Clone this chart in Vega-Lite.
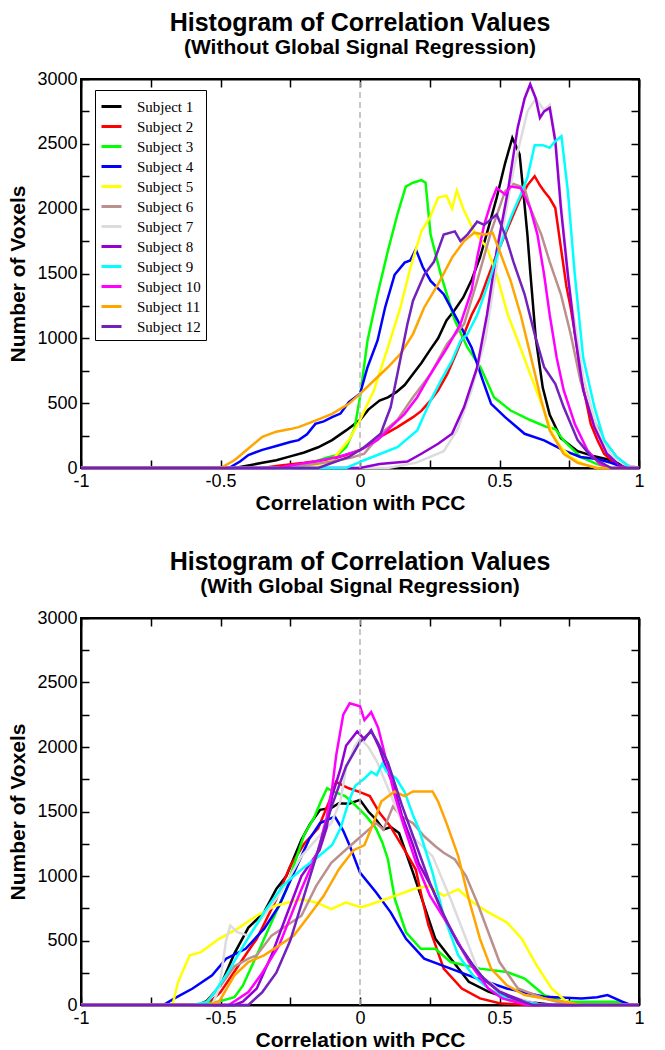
{
"$schema":"https://vega.github.io/schema/vega-lite/v6.json",
"padding":{"left":6,"top":10,"right":18,"bottom":5},
"background":"white",
"config":{"view":{"stroke":"black","strokeWidth":2},"font":"Liberation Sans",
"title":{"font":"Liberation Sans","fontSize":25,"fontWeight":"bold","color":"black","subtitleFont":"Liberation Sans","subtitleFontSize":21,"subtitleFontWeight":"bold","subtitleColor":"black","subtitlePadding":1,"offset":12,"anchor":"middle"}},
"datasets":{
"top":[
{"s":"Subject 1","x":-1,"y":0},{"s":"Subject 1","x":-0.45,"y":0},{"s":"Subject 1","x":-0.4,"y":20},{"s":"Subject 1","x":-0.35,"y":40},{"s":"Subject 1","x":-0.3,"y":60},{"s":"Subject 1","x":-0.25,"y":90},{"s":"Subject 1","x":-0.2,"y":120},{"s":"Subject 1","x":-0.15,"y":160},{"s":"Subject 1","x":-0.1,"y":215},{"s":"Subject 1","x":-0.05,"y":290},{"s":"Subject 1","x":0,"y":370},{"s":"Subject 1","x":0.03,"y":450},{"s":"Subject 1","x":0.07,"y":520},{"s":"Subject 1","x":0.1,"y":545},{"s":"Subject 1","x":0.13,"y":585},{"s":"Subject 1","x":0.16,"y":640},{"s":"Subject 1","x":0.19,"y":725},{"s":"Subject 1","x":0.22,"y":810},{"s":"Subject 1","x":0.25,"y":907},{"s":"Subject 1","x":0.28,"y":1000},{"s":"Subject 1","x":0.31,"y":1138},{"s":"Subject 1","x":0.34,"y":1220},{"s":"Subject 1","x":0.37,"y":1315},{"s":"Subject 1","x":0.4,"y":1450},{"s":"Subject 1","x":0.43,"y":1623},{"s":"Subject 1","x":0.46,"y":1850},{"s":"Subject 1","x":0.49,"y":2085},{"s":"Subject 1","x":0.52,"y":2350},{"s":"Subject 1","x":0.546,"y":2546},{"s":"Subject 1","x":0.56,"y":2480},{"s":"Subject 1","x":0.572,"y":2420},{"s":"Subject 1","x":0.585,"y":2140},{"s":"Subject 1","x":0.6,"y":1800},{"s":"Subject 1","x":0.61,"y":1520},{"s":"Subject 1","x":0.63,"y":1000},{"s":"Subject 1","x":0.655,"y":620},{"s":"Subject 1","x":0.68,"y":410},{"s":"Subject 1","x":0.72,"y":230},{"s":"Subject 1","x":0.78,"y":130},{"s":"Subject 1","x":0.84,"y":90},{"s":"Subject 1","x":0.9,"y":60},{"s":"Subject 1","x":0.95,"y":10},{"s":"Subject 1","x":1,"y":0},
{"s":"Subject 2","x":-1,"y":0},{"s":"Subject 2","x":-0.35,"y":0},{"s":"Subject 2","x":-0.3,"y":15},{"s":"Subject 2","x":-0.2,"y":40},{"s":"Subject 2","x":-0.1,"y":70},{"s":"Subject 2","x":-0.05,"y":100},{"s":"Subject 2","x":0,"y":140},{"s":"Subject 2","x":0.04,"y":187},{"s":"Subject 2","x":0.08,"y":250},{"s":"Subject 2","x":0.134,"y":315},{"s":"Subject 2","x":0.19,"y":392},{"s":"Subject 2","x":0.22,"y":440},{"s":"Subject 2","x":0.253,"y":521},{"s":"Subject 2","x":0.28,"y":600},{"s":"Subject 2","x":0.313,"y":725},{"s":"Subject 2","x":0.34,"y":860},{"s":"Subject 2","x":0.373,"y":1033},{"s":"Subject 2","x":0.4,"y":1180},{"s":"Subject 2","x":0.432,"y":1315},{"s":"Subject 2","x":0.46,"y":1480},{"s":"Subject 2","x":0.49,"y":1648},{"s":"Subject 2","x":0.52,"y":1800},{"s":"Subject 2","x":0.55,"y":1955},{"s":"Subject 2","x":0.575,"y":2080},{"s":"Subject 2","x":0.6,"y":2180},{"s":"Subject 2","x":0.626,"y":2251},{"s":"Subject 2","x":0.645,"y":2180},{"s":"Subject 2","x":0.66,"y":2135},{"s":"Subject 2","x":0.68,"y":2080},{"s":"Subject 2","x":0.7,"y":2005},{"s":"Subject 2","x":0.72,"y":1700},{"s":"Subject 2","x":0.74,"y":1400},{"s":"Subject 2","x":0.755,"y":1238},{"s":"Subject 2","x":0.775,"y":980},{"s":"Subject 2","x":0.79,"y":725},{"s":"Subject 2","x":0.81,"y":520},{"s":"Subject 2","x":0.827,"y":340},{"s":"Subject 2","x":0.85,"y":220},{"s":"Subject 2","x":0.875,"y":110},{"s":"Subject 2","x":0.91,"y":40},{"s":"Subject 2","x":0.95,"y":0},{"s":"Subject 2","x":1,"y":0},
{"s":"Subject 3","x":-1,"y":0},{"s":"Subject 3","x":-0.3,"y":0},{"s":"Subject 3","x":-0.25,"y":10},{"s":"Subject 3","x":-0.2,"y":30},{"s":"Subject 3","x":-0.16,"y":50},{"s":"Subject 3","x":-0.12,"y":80},{"s":"Subject 3","x":-0.08,"y":100},{"s":"Subject 3","x":-0.05,"y":160},{"s":"Subject 3","x":-0.02,"y":300},{"s":"Subject 3","x":0,"y":546},{"s":"Subject 3","x":0.027,"y":984},{"s":"Subject 3","x":0.063,"y":1340},{"s":"Subject 3","x":0.1,"y":1675},{"s":"Subject 3","x":0.134,"y":1955},{"s":"Subject 3","x":0.164,"y":2170},{"s":"Subject 3","x":0.19,"y":2200},{"s":"Subject 3","x":0.22,"y":2220},{"s":"Subject 3","x":0.235,"y":2200},{"s":"Subject 3","x":0.253,"y":1800},{"s":"Subject 3","x":0.29,"y":1490},{"s":"Subject 3","x":0.34,"y":1138},{"s":"Subject 3","x":0.385,"y":930},{"s":"Subject 3","x":0.432,"y":777},{"s":"Subject 3","x":0.48,"y":546},{"s":"Subject 3","x":0.54,"y":443},{"s":"Subject 3","x":0.61,"y":370},{"s":"Subject 3","x":0.67,"y":315},{"s":"Subject 3","x":0.7,"y":300},{"s":"Subject 3","x":0.73,"y":213},{"s":"Subject 3","x":0.76,"y":150},{"s":"Subject 3","x":0.79,"y":85},{"s":"Subject 3","x":0.85,"y":30},{"s":"Subject 3","x":0.9,"y":0},{"s":"Subject 3","x":1,"y":0},
{"s":"Subject 4","x":-1,"y":0},{"s":"Subject 4","x":-0.47,"y":0},{"s":"Subject 4","x":-0.43,"y":50},{"s":"Subject 4","x":-0.4,"y":100},{"s":"Subject 4","x":-0.35,"y":140},{"s":"Subject 4","x":-0.3,"y":170},{"s":"Subject 4","x":-0.25,"y":200},{"s":"Subject 4","x":-0.22,"y":215},{"s":"Subject 4","x":-0.19,"y":260},{"s":"Subject 4","x":-0.16,"y":340},{"s":"Subject 4","x":-0.13,"y":360},{"s":"Subject 4","x":-0.1,"y":392},{"s":"Subject 4","x":-0.07,"y":420},{"s":"Subject 4","x":-0.04,"y":508},{"s":"Subject 4","x":0,"y":572},{"s":"Subject 4","x":0.027,"y":777},{"s":"Subject 4","x":0.063,"y":984},{"s":"Subject 4","x":0.09,"y":1238},{"s":"Subject 4","x":0.124,"y":1490},{"s":"Subject 4","x":0.16,"y":1584},{"s":"Subject 4","x":0.18,"y":1600},{"s":"Subject 4","x":0.2,"y":1687},{"s":"Subject 4","x":0.225,"y":1550},{"s":"Subject 4","x":0.253,"y":1443},{"s":"Subject 4","x":0.3,"y":1340},{"s":"Subject 4","x":0.35,"y":1138},{"s":"Subject 4","x":0.4,"y":930},{"s":"Subject 4","x":0.44,"y":675},{"s":"Subject 4","x":0.47,"y":495},{"s":"Subject 4","x":0.52,"y":392},{"s":"Subject 4","x":0.59,"y":264},{"s":"Subject 4","x":0.66,"y":213},{"s":"Subject 4","x":0.73,"y":136},{"s":"Subject 4","x":0.79,"y":85},{"s":"Subject 4","x":0.85,"y":70},{"s":"Subject 4","x":0.9,"y":40},{"s":"Subject 4","x":0.95,"y":0},{"s":"Subject 4","x":1,"y":0},
{"s":"Subject 5","x":-1,"y":0},{"s":"Subject 5","x":-0.25,"y":0},{"s":"Subject 5","x":-0.2,"y":10},{"s":"Subject 5","x":-0.15,"y":25},{"s":"Subject 5","x":-0.1,"y":60},{"s":"Subject 5","x":-0.04,"y":215},{"s":"Subject 5","x":0,"y":370},{"s":"Subject 5","x":0.05,"y":600},{"s":"Subject 5","x":0.1,"y":930},{"s":"Subject 5","x":0.145,"y":1238},{"s":"Subject 5","x":0.18,"y":1540},{"s":"Subject 5","x":0.22,"y":1825},{"s":"Subject 5","x":0.25,"y":1930},{"s":"Subject 5","x":0.28,"y":2085},{"s":"Subject 5","x":0.31,"y":2100},{"s":"Subject 5","x":0.33,"y":2000},{"s":"Subject 5","x":0.347,"y":2140},{"s":"Subject 5","x":0.37,"y":2000},{"s":"Subject 5","x":0.41,"y":1820},{"s":"Subject 5","x":0.455,"y":1700},{"s":"Subject 5","x":0.49,"y":1490},{"s":"Subject 5","x":0.53,"y":1180},{"s":"Subject 5","x":0.565,"y":985},{"s":"Subject 5","x":0.61,"y":725},{"s":"Subject 5","x":0.655,"y":470},{"s":"Subject 5","x":0.69,"y":265},{"s":"Subject 5","x":0.72,"y":160},{"s":"Subject 5","x":0.755,"y":85},{"s":"Subject 5","x":0.8,"y":30},{"s":"Subject 5","x":0.85,"y":0},{"s":"Subject 5","x":1,"y":0},
{"s":"Subject 6","x":-1,"y":0},{"s":"Subject 6","x":-0.3,"y":0},{"s":"Subject 6","x":-0.2,"y":20},{"s":"Subject 6","x":-0.1,"y":50},{"s":"Subject 6","x":-0.03,"y":80},{"s":"Subject 6","x":0.015,"y":110},{"s":"Subject 6","x":0.075,"y":265},{"s":"Subject 6","x":0.134,"y":370},{"s":"Subject 6","x":0.19,"y":546},{"s":"Subject 6","x":0.253,"y":725},{"s":"Subject 6","x":0.313,"y":960},{"s":"Subject 6","x":0.373,"y":1110},{"s":"Subject 6","x":0.42,"y":1443},{"s":"Subject 6","x":0.47,"y":1825},{"s":"Subject 6","x":0.52,"y":2135},{"s":"Subject 6","x":0.55,"y":2190},{"s":"Subject 6","x":0.59,"y":2160},{"s":"Subject 6","x":0.61,"y":2005},{"s":"Subject 6","x":0.65,"y":1800},{"s":"Subject 6","x":0.68,"y":1590},{"s":"Subject 6","x":0.72,"y":1340},{"s":"Subject 6","x":0.755,"y":1033},{"s":"Subject 6","x":0.79,"y":675},{"s":"Subject 6","x":0.827,"y":418},{"s":"Subject 6","x":0.875,"y":215},{"s":"Subject 6","x":0.92,"y":85},{"s":"Subject 6","x":0.96,"y":20},{"s":"Subject 6","x":1,"y":0},
{"s":"Subject 7","x":-1,"y":0},{"s":"Subject 7","x":0.1,"y":0},{"s":"Subject 7","x":0.2,"y":40},{"s":"Subject 7","x":0.3,"y":130},{"s":"Subject 7","x":0.35,"y":300},{"s":"Subject 7","x":0.4,"y":600},{"s":"Subject 7","x":0.45,"y":1000},{"s":"Subject 7","x":0.5,"y":1700},{"s":"Subject 7","x":0.55,"y":2300},{"s":"Subject 7","x":0.6,"y":2750},{"s":"Subject 7","x":0.63,"y":2850},{"s":"Subject 7","x":0.66,"y":2760},{"s":"Subject 7","x":0.68,"y":2800},{"s":"Subject 7","x":0.7,"y":2550},{"s":"Subject 7","x":0.72,"y":2050},{"s":"Subject 7","x":0.75,"y":1400},{"s":"Subject 7","x":0.8,"y":700},{"s":"Subject 7","x":0.85,"y":300},{"s":"Subject 7","x":0.9,"y":100},{"s":"Subject 7","x":0.95,"y":20},{"s":"Subject 7","x":1,"y":0},
{"s":"Subject 8","x":-1,"y":0},{"s":"Subject 8","x":0,"y":0},{"s":"Subject 8","x":0.07,"y":30},{"s":"Subject 8","x":0.17,"y":50},{"s":"Subject 8","x":0.22,"y":110},{"s":"Subject 8","x":0.28,"y":187},{"s":"Subject 8","x":0.33,"y":265},{"s":"Subject 8","x":0.373,"y":470},{"s":"Subject 8","x":0.42,"y":777},{"s":"Subject 8","x":0.455,"y":1180},{"s":"Subject 8","x":0.49,"y":1675},{"s":"Subject 8","x":0.53,"y":2135},{"s":"Subject 8","x":0.565,"y":2623},{"s":"Subject 8","x":0.59,"y":2850},{"s":"Subject 8","x":0.61,"y":2960},{"s":"Subject 8","x":0.63,"y":2850},{"s":"Subject 8","x":0.645,"y":2700},{"s":"Subject 8","x":0.66,"y":2750},{"s":"Subject 8","x":0.68,"y":2777},{"s":"Subject 8","x":0.7,"y":2520},{"s":"Subject 8","x":0.72,"y":2005},{"s":"Subject 8","x":0.745,"y":1490},{"s":"Subject 8","x":0.77,"y":1033},{"s":"Subject 8","x":0.8,"y":600},{"s":"Subject 8","x":0.84,"y":315},{"s":"Subject 8","x":0.885,"y":110},{"s":"Subject 8","x":0.93,"y":20},{"s":"Subject 8","x":0.96,"y":0},{"s":"Subject 8","x":1,"y":0},
{"s":"Subject 9","x":-1,"y":0},{"s":"Subject 9","x":-0.05,"y":0},{"s":"Subject 9","x":0.015,"y":60},{"s":"Subject 9","x":0.074,"y":110},{"s":"Subject 9","x":0.134,"y":160},{"s":"Subject 9","x":0.205,"y":290},{"s":"Subject 9","x":0.253,"y":520},{"s":"Subject 9","x":0.29,"y":675},{"s":"Subject 9","x":0.33,"y":830},{"s":"Subject 9","x":0.36,"y":980},{"s":"Subject 9","x":0.385,"y":1033},{"s":"Subject 9","x":0.42,"y":1180},{"s":"Subject 9","x":0.47,"y":1490},{"s":"Subject 9","x":0.5,"y":1700},{"s":"Subject 9","x":0.54,"y":1930},{"s":"Subject 9","x":0.576,"y":2110},{"s":"Subject 9","x":0.6,"y":2240},{"s":"Subject 9","x":0.626,"y":2490},{"s":"Subject 9","x":0.655,"y":2490},{"s":"Subject 9","x":0.68,"y":2470},{"s":"Subject 9","x":0.7,"y":2520},{"s":"Subject 9","x":0.722,"y":2559},{"s":"Subject 9","x":0.745,"y":2135},{"s":"Subject 9","x":0.77,"y":1490},{"s":"Subject 9","x":0.8,"y":850},{"s":"Subject 9","x":0.84,"y":470},{"s":"Subject 9","x":0.875,"y":215},{"s":"Subject 9","x":0.92,"y":85},{"s":"Subject 9","x":0.97,"y":0},{"s":"Subject 9","x":1,"y":0},
{"s":"Subject 10","x":-1,"y":0},{"s":"Subject 10","x":-0.3,"y":0},{"s":"Subject 10","x":-0.22,"y":30},{"s":"Subject 10","x":-0.16,"y":50},{"s":"Subject 10","x":-0.08,"y":85},{"s":"Subject 10","x":0,"y":136},{"s":"Subject 10","x":0.063,"y":215},{"s":"Subject 10","x":0.11,"y":315},{"s":"Subject 10","x":0.16,"y":418},{"s":"Subject 10","x":0.205,"y":546},{"s":"Subject 10","x":0.253,"y":725},{"s":"Subject 10","x":0.313,"y":930},{"s":"Subject 10","x":0.36,"y":1110},{"s":"Subject 10","x":0.4,"y":1370},{"s":"Subject 10","x":0.42,"y":1623},{"s":"Subject 10","x":0.445,"y":1875},{"s":"Subject 10","x":0.47,"y":2050},{"s":"Subject 10","x":0.49,"y":2160},{"s":"Subject 10","x":0.52,"y":2110},{"s":"Subject 10","x":0.54,"y":2170},{"s":"Subject 10","x":0.576,"y":2160},{"s":"Subject 10","x":0.61,"y":2005},{"s":"Subject 10","x":0.636,"y":1800},{"s":"Subject 10","x":0.66,"y":1490},{"s":"Subject 10","x":0.68,"y":1180},{"s":"Subject 10","x":0.705,"y":850},{"s":"Subject 10","x":0.73,"y":600},{"s":"Subject 10","x":0.77,"y":340},{"s":"Subject 10","x":0.815,"y":136},{"s":"Subject 10","x":0.86,"y":30},{"s":"Subject 10","x":0.9,"y":0},{"s":"Subject 10","x":1,"y":0},
{"s":"Subject 11","x":-1,"y":0},{"s":"Subject 11","x":-0.5,"y":0},{"s":"Subject 11","x":-0.45,"y":60},{"s":"Subject 11","x":-0.4,"y":150},{"s":"Subject 11","x":-0.35,"y":240},{"s":"Subject 11","x":-0.3,"y":280},{"s":"Subject 11","x":-0.25,"y":300},{"s":"Subject 11","x":-0.22,"y":315},{"s":"Subject 11","x":-0.16,"y":365},{"s":"Subject 11","x":-0.1,"y":418},{"s":"Subject 11","x":-0.04,"y":495},{"s":"Subject 11","x":0,"y":572},{"s":"Subject 11","x":0.05,"y":675},{"s":"Subject 11","x":0.1,"y":777},{"s":"Subject 11","x":0.145,"y":880},{"s":"Subject 11","x":0.19,"y":1033},{"s":"Subject 11","x":0.23,"y":1238},{"s":"Subject 11","x":0.28,"y":1418},{"s":"Subject 11","x":0.33,"y":1623},{"s":"Subject 11","x":0.373,"y":1750},{"s":"Subject 11","x":0.41,"y":1815},{"s":"Subject 11","x":0.445,"y":1800},{"s":"Subject 11","x":0.475,"y":1815},{"s":"Subject 11","x":0.5,"y":1675},{"s":"Subject 11","x":0.54,"y":1443},{"s":"Subject 11","x":0.576,"y":1180},{"s":"Subject 11","x":0.61,"y":880},{"s":"Subject 11","x":0.65,"y":520},{"s":"Subject 11","x":0.68,"y":290},{"s":"Subject 11","x":0.73,"y":110},{"s":"Subject 11","x":0.78,"y":40},{"s":"Subject 11","x":0.85,"y":0},{"s":"Subject 11","x":1,"y":0},
{"s":"Subject 12","x":-1,"y":0},{"s":"Subject 12","x":-0.15,"y":0},{"s":"Subject 12","x":-0.04,"y":85},{"s":"Subject 12","x":0.015,"y":160},{"s":"Subject 12","x":0.074,"y":265},{"s":"Subject 12","x":0.11,"y":470},{"s":"Subject 12","x":0.134,"y":725},{"s":"Subject 12","x":0.17,"y":1110},{"s":"Subject 12","x":0.19,"y":1290},{"s":"Subject 12","x":0.23,"y":1490},{"s":"Subject 12","x":0.265,"y":1590},{"s":"Subject 12","x":0.3,"y":1800},{"s":"Subject 12","x":0.34,"y":1825},{"s":"Subject 12","x":0.36,"y":1750},{"s":"Subject 12","x":0.385,"y":1800},{"s":"Subject 12","x":0.42,"y":1900},{"s":"Subject 12","x":0.445,"y":1875},{"s":"Subject 12","x":0.49,"y":1955},{"s":"Subject 12","x":0.52,"y":1800},{"s":"Subject 12","x":0.55,"y":1590},{"s":"Subject 12","x":0.59,"y":1340},{"s":"Subject 12","x":0.626,"y":1033},{"s":"Subject 12","x":0.66,"y":777},{"s":"Subject 12","x":0.7,"y":650},{"s":"Subject 12","x":0.73,"y":470},{"s":"Subject 12","x":0.78,"y":215},{"s":"Subject 12","x":0.83,"y":85},{"s":"Subject 12","x":0.9,"y":0},{"s":"Subject 12","x":1,"y":0}
],
"bot":[
{"s":"Subject 1","x":-1,"y":0},{"s":"Subject 1","x":-0.58,"y":0},{"s":"Subject 1","x":-0.55,"y":30},{"s":"Subject 1","x":-0.5,"y":150},{"s":"Subject 1","x":-0.45,"y":400},{"s":"Subject 1","x":-0.4,"y":600},{"s":"Subject 1","x":-0.344,"y":718},{"s":"Subject 1","x":-0.3,"y":900},{"s":"Subject 1","x":-0.264,"y":1000},{"s":"Subject 1","x":-0.21,"y":1280},{"s":"Subject 1","x":-0.18,"y":1400},{"s":"Subject 1","x":-0.143,"y":1513},{"s":"Subject 1","x":-0.1,"y":1530},{"s":"Subject 1","x":-0.076,"y":1564},{"s":"Subject 1","x":-0.04,"y":1560},{"s":"Subject 1","x":0,"y":1590},{"s":"Subject 1","x":0.03,"y":1500},{"s":"Subject 1","x":0.058,"y":1436},{"s":"Subject 1","x":0.084,"y":1360},{"s":"Subject 1","x":0.11,"y":1380},{"s":"Subject 1","x":0.14,"y":1333},{"s":"Subject 1","x":0.19,"y":1026},{"s":"Subject 1","x":0.23,"y":770},{"s":"Subject 1","x":0.27,"y":513},{"s":"Subject 1","x":0.325,"y":360},{"s":"Subject 1","x":0.39,"y":180},{"s":"Subject 1","x":0.46,"y":103},{"s":"Subject 1","x":0.52,"y":60},{"s":"Subject 1","x":0.59,"y":26},{"s":"Subject 1","x":0.7,"y":0},{"s":"Subject 1","x":1,"y":0},
{"s":"Subject 2","x":-1,"y":0},{"s":"Subject 2","x":-0.55,"y":0},{"s":"Subject 2","x":-0.5,"y":100},{"s":"Subject 2","x":-0.45,"y":260},{"s":"Subject 2","x":-0.4,"y":420},{"s":"Subject 2","x":-0.37,"y":513},{"s":"Subject 2","x":-0.3,"y":820},{"s":"Subject 2","x":-0.25,"y":1077},{"s":"Subject 2","x":-0.2,"y":1250},{"s":"Subject 2","x":-0.15,"y":1370},{"s":"Subject 2","x":-0.11,"y":1580},{"s":"Subject 2","x":-0.086,"y":1730},{"s":"Subject 2","x":-0.06,"y":1700},{"s":"Subject 2","x":-0.04,"y":1680},{"s":"Subject 2","x":0,"y":1650},{"s":"Subject 2","x":0.035,"y":1620},{"s":"Subject 2","x":0.07,"y":1490},{"s":"Subject 2","x":0.107,"y":1390},{"s":"Subject 2","x":0.16,"y":1200},{"s":"Subject 2","x":0.2,"y":1050},{"s":"Subject 2","x":0.22,"y":850},{"s":"Subject 2","x":0.245,"y":620},{"s":"Subject 2","x":0.3,"y":282},{"s":"Subject 2","x":0.365,"y":128},{"s":"Subject 2","x":0.43,"y":51},{"s":"Subject 2","x":0.5,"y":13},{"s":"Subject 2","x":0.6,"y":0},{"s":"Subject 2","x":1,"y":0},
{"s":"Subject 3","x":-1,"y":0},{"s":"Subject 3","x":-0.58,"y":0},{"s":"Subject 3","x":-0.5,"y":30},{"s":"Subject 3","x":-0.45,"y":60},{"s":"Subject 3","x":-0.42,"y":150},{"s":"Subject 3","x":-0.37,"y":385},{"s":"Subject 3","x":-0.317,"y":641},{"s":"Subject 3","x":-0.264,"y":897},{"s":"Subject 3","x":-0.25,"y":1000},{"s":"Subject 3","x":-0.21,"y":1256},{"s":"Subject 3","x":-0.2,"y":1320},{"s":"Subject 3","x":-0.165,"y":1450},{"s":"Subject 3","x":-0.14,"y":1580},{"s":"Subject 3","x":-0.118,"y":1680},{"s":"Subject 3","x":-0.09,"y":1650},{"s":"Subject 3","x":-0.053,"y":1620},{"s":"Subject 3","x":-0.017,"y":1550},{"s":"Subject 3","x":0.02,"y":1470},{"s":"Subject 3","x":0.057,"y":1370},{"s":"Subject 3","x":0.08,"y":1260},{"s":"Subject 3","x":0.1,"y":1130},{"s":"Subject 3","x":0.125,"y":820},{"s":"Subject 3","x":0.165,"y":564},{"s":"Subject 3","x":0.218,"y":436},{"s":"Subject 3","x":0.27,"y":436},{"s":"Subject 3","x":0.325,"y":333},{"s":"Subject 3","x":0.43,"y":282},{"s":"Subject 3","x":0.526,"y":256},{"s":"Subject 3","x":0.59,"y":205},{"s":"Subject 3","x":0.66,"y":77},{"s":"Subject 3","x":0.727,"y":26},{"s":"Subject 3","x":0.93,"y":26},{"s":"Subject 3","x":0.97,"y":0},{"s":"Subject 3","x":1,"y":0},
{"s":"Subject 4","x":-1,"y":0},{"s":"Subject 4","x":-0.705,"y":0},{"s":"Subject 4","x":-0.665,"y":51},{"s":"Subject 4","x":-0.6,"y":128},{"s":"Subject 4","x":-0.53,"y":230},{"s":"Subject 4","x":-0.48,"y":359},{"s":"Subject 4","x":-0.41,"y":436},{"s":"Subject 4","x":-0.344,"y":590},{"s":"Subject 4","x":-0.29,"y":769},{"s":"Subject 4","x":-0.237,"y":1026},{"s":"Subject 4","x":-0.183,"y":1282},{"s":"Subject 4","x":-0.143,"y":1410},{"s":"Subject 4","x":-0.09,"y":1461},{"s":"Subject 4","x":-0.06,"y":1350},{"s":"Subject 4","x":-0.036,"y":1230},{"s":"Subject 4","x":0,"y":1026},{"s":"Subject 4","x":0.058,"y":872},{"s":"Subject 4","x":0.11,"y":718},{"s":"Subject 4","x":0.165,"y":513},{"s":"Subject 4","x":0.23,"y":359},{"s":"Subject 4","x":0.325,"y":282},{"s":"Subject 4","x":0.42,"y":205},{"s":"Subject 4","x":0.526,"y":128},{"s":"Subject 4","x":0.66,"y":64},{"s":"Subject 4","x":0.794,"y":51},{"s":"Subject 4","x":0.85,"y":60},{"s":"Subject 4","x":0.887,"y":77},{"s":"Subject 4","x":0.94,"y":26},{"s":"Subject 4","x":0.97,"y":0},{"s":"Subject 4","x":1,"y":0},
{"s":"Subject 5","x":-1,"y":0},{"s":"Subject 5","x":-0.672,"y":0},{"s":"Subject 5","x":-0.652,"y":180},{"s":"Subject 5","x":-0.61,"y":385},{"s":"Subject 5","x":-0.57,"y":410},{"s":"Subject 5","x":-0.505,"y":513},{"s":"Subject 5","x":-0.44,"y":590},{"s":"Subject 5","x":-0.37,"y":692},{"s":"Subject 5","x":-0.304,"y":769},{"s":"Subject 5","x":-0.21,"y":820},{"s":"Subject 5","x":-0.157,"y":795},{"s":"Subject 5","x":-0.103,"y":744},{"s":"Subject 5","x":-0.05,"y":795},{"s":"Subject 5","x":0.004,"y":756},{"s":"Subject 5","x":0.058,"y":795},{"s":"Subject 5","x":0.125,"y":846},{"s":"Subject 5","x":0.19,"y":897},{"s":"Subject 5","x":0.245,"y":923},{"s":"Subject 5","x":0.3,"y":846},{"s":"Subject 5","x":0.352,"y":897},{"s":"Subject 5","x":0.405,"y":795},{"s":"Subject 5","x":0.46,"y":718},{"s":"Subject 5","x":0.526,"y":641},{"s":"Subject 5","x":0.58,"y":513},{"s":"Subject 5","x":0.633,"y":308},{"s":"Subject 5","x":0.687,"y":128},{"s":"Subject 5","x":0.74,"y":26},{"s":"Subject 5","x":0.78,"y":0},{"s":"Subject 5","x":1,"y":0},
{"s":"Subject 6","x":-1,"y":0},{"s":"Subject 6","x":-0.56,"y":0},{"s":"Subject 6","x":-0.5,"y":150},{"s":"Subject 6","x":-0.45,"y":300},{"s":"Subject 6","x":-0.4,"y":360},{"s":"Subject 6","x":-0.37,"y":385},{"s":"Subject 6","x":-0.317,"y":538},{"s":"Subject 6","x":-0.264,"y":615},{"s":"Subject 6","x":-0.21,"y":692},{"s":"Subject 6","x":-0.157,"y":923},{"s":"Subject 6","x":-0.103,"y":1103},{"s":"Subject 6","x":-0.05,"y":1205},{"s":"Subject 6","x":0.004,"y":1308},{"s":"Subject 6","x":0.058,"y":1410},{"s":"Subject 6","x":0.084,"y":1359},{"s":"Subject 6","x":0.118,"y":1538},{"s":"Subject 6","x":0.15,"y":1461},{"s":"Subject 6","x":0.19,"y":1410},{"s":"Subject 6","x":0.23,"y":1308},{"s":"Subject 6","x":0.27,"y":1231},{"s":"Subject 6","x":0.3,"y":1180},{"s":"Subject 6","x":0.34,"y":1128},{"s":"Subject 6","x":0.38,"y":1000},{"s":"Subject 6","x":0.42,"y":795},{"s":"Subject 6","x":0.46,"y":564},{"s":"Subject 6","x":0.5,"y":333},{"s":"Subject 6","x":0.566,"y":128},{"s":"Subject 6","x":0.66,"y":51},{"s":"Subject 6","x":0.727,"y":13},{"s":"Subject 6","x":0.8,"y":0},{"s":"Subject 6","x":1,"y":0},
{"s":"Subject 7","x":-1,"y":0},{"s":"Subject 7","x":-0.53,"y":0},{"s":"Subject 7","x":-0.505,"y":128},{"s":"Subject 7","x":-0.48,"y":500},{"s":"Subject 7","x":-0.465,"y":615},{"s":"Subject 7","x":-0.44,"y":564},{"s":"Subject 7","x":-0.4,"y":538},{"s":"Subject 7","x":-0.344,"y":692},{"s":"Subject 7","x":-0.277,"y":897},{"s":"Subject 7","x":-0.21,"y":1154},{"s":"Subject 7","x":-0.157,"y":1282},{"s":"Subject 7","x":-0.103,"y":1410},{"s":"Subject 7","x":-0.07,"y":1580},{"s":"Subject 7","x":-0.05,"y":1835},{"s":"Subject 7","x":-0.02,"y":2000},{"s":"Subject 7","x":0,"y":2067},{"s":"Subject 7","x":0.03,"y":2000},{"s":"Subject 7","x":0.06,"y":1890},{"s":"Subject 7","x":0.11,"y":1630},{"s":"Subject 7","x":0.16,"y":1370},{"s":"Subject 7","x":0.19,"y":1300},{"s":"Subject 7","x":0.26,"y":1154},{"s":"Subject 7","x":0.325,"y":820},{"s":"Subject 7","x":0.38,"y":513},{"s":"Subject 7","x":0.43,"y":230},{"s":"Subject 7","x":0.526,"y":77},{"s":"Subject 7","x":0.65,"y":0},{"s":"Subject 7","x":1,"y":0},
{"s":"Subject 8","x":-1,"y":0},{"s":"Subject 8","x":-0.45,"y":0},{"s":"Subject 8","x":-0.42,"y":26},{"s":"Subject 8","x":-0.37,"y":128},{"s":"Subject 8","x":-0.317,"y":385},{"s":"Subject 8","x":-0.264,"y":692},{"s":"Subject 8","x":-0.21,"y":1000},{"s":"Subject 8","x":-0.145,"y":1200},{"s":"Subject 8","x":-0.12,"y":1370},{"s":"Subject 8","x":-0.1,"y":1620},{"s":"Subject 8","x":-0.07,"y":1830},{"s":"Subject 8","x":-0.05,"y":2010},{"s":"Subject 8","x":-0.01,"y":2120},{"s":"Subject 8","x":0.016,"y":2060},{"s":"Subject 8","x":0.04,"y":2130},{"s":"Subject 8","x":0.07,"y":1990},{"s":"Subject 8","x":0.095,"y":1830},{"s":"Subject 8","x":0.124,"y":1680},{"s":"Subject 8","x":0.15,"y":1470},{"s":"Subject 8","x":0.19,"y":1240},{"s":"Subject 8","x":0.21,"y":1100},{"s":"Subject 8","x":0.26,"y":897},{"s":"Subject 8","x":0.31,"y":641},{"s":"Subject 8","x":0.365,"y":436},{"s":"Subject 8","x":0.43,"y":230},{"s":"Subject 8","x":0.5,"y":103},{"s":"Subject 8","x":0.59,"y":26},{"s":"Subject 8","x":0.65,"y":0},{"s":"Subject 8","x":1,"y":0},
{"s":"Subject 9","x":-1,"y":0},{"s":"Subject 9","x":-0.6,"y":0},{"s":"Subject 9","x":-0.545,"y":26},{"s":"Subject 9","x":-0.48,"y":230},{"s":"Subject 9","x":-0.41,"y":487},{"s":"Subject 9","x":-0.344,"y":718},{"s":"Subject 9","x":-0.277,"y":923},{"s":"Subject 9","x":-0.21,"y":1050},{"s":"Subject 9","x":-0.15,"y":1150},{"s":"Subject 9","x":-0.1,"y":1240},{"s":"Subject 9","x":-0.07,"y":1370},{"s":"Subject 9","x":-0.04,"y":1580},{"s":"Subject 9","x":-0.017,"y":1700},{"s":"Subject 9","x":0.016,"y":1756},{"s":"Subject 9","x":0.04,"y":1808},{"s":"Subject 9","x":0.06,"y":1782},{"s":"Subject 9","x":0.08,"y":1870},{"s":"Subject 9","x":0.095,"y":1808},{"s":"Subject 9","x":0.13,"y":1756},{"s":"Subject 9","x":0.16,"y":1650},{"s":"Subject 9","x":0.19,"y":1470},{"s":"Subject 9","x":0.21,"y":1370},{"s":"Subject 9","x":0.26,"y":1026},{"s":"Subject 9","x":0.3,"y":692},{"s":"Subject 9","x":0.352,"y":385},{"s":"Subject 9","x":0.405,"y":230},{"s":"Subject 9","x":0.46,"y":128},{"s":"Subject 9","x":0.526,"y":51},{"s":"Subject 9","x":0.65,"y":0},{"s":"Subject 9","x":1,"y":0},
{"s":"Subject 10","x":-1,"y":0},{"s":"Subject 10","x":-0.47,"y":0},{"s":"Subject 10","x":-0.4,"y":100},{"s":"Subject 10","x":-0.35,"y":250},{"s":"Subject 10","x":-0.29,"y":461},{"s":"Subject 10","x":-0.21,"y":897},{"s":"Subject 10","x":-0.15,"y":1200},{"s":"Subject 10","x":-0.12,"y":1450},{"s":"Subject 10","x":-0.1,"y":1680},{"s":"Subject 10","x":-0.085,"y":1940},{"s":"Subject 10","x":-0.06,"y":2250},{"s":"Subject 10","x":-0.037,"y":2339},{"s":"Subject 10","x":0,"y":2315},{"s":"Subject 10","x":0.016,"y":2209},{"s":"Subject 10","x":0.04,"y":2270},{"s":"Subject 10","x":0.065,"y":2150},{"s":"Subject 10","x":0.095,"y":1890},{"s":"Subject 10","x":0.124,"y":1626},{"s":"Subject 10","x":0.16,"y":1370},{"s":"Subject 10","x":0.2,"y":1110},{"s":"Subject 10","x":0.25,"y":850},{"s":"Subject 10","x":0.325,"y":590},{"s":"Subject 10","x":0.39,"y":333},{"s":"Subject 10","x":0.46,"y":128},{"s":"Subject 10","x":0.51,"y":51},{"s":"Subject 10","x":0.6,"y":0},{"s":"Subject 10","x":1,"y":0},
{"s":"Subject 11","x":-1,"y":0},{"s":"Subject 11","x":-0.55,"y":0},{"s":"Subject 11","x":-0.505,"y":26},{"s":"Subject 11","x":-0.45,"y":230},{"s":"Subject 11","x":-0.4,"y":333},{"s":"Subject 11","x":-0.344,"y":385},{"s":"Subject 11","x":-0.29,"y":461},{"s":"Subject 11","x":-0.237,"y":538},{"s":"Subject 11","x":-0.183,"y":692},{"s":"Subject 11","x":-0.13,"y":846},{"s":"Subject 11","x":-0.076,"y":1051},{"s":"Subject 11","x":-0.023,"y":1200},{"s":"Subject 11","x":0.016,"y":1240},{"s":"Subject 11","x":0.05,"y":1420},{"s":"Subject 11","x":0.076,"y":1577},{"s":"Subject 11","x":0.124,"y":1655},{"s":"Subject 11","x":0.16,"y":1620},{"s":"Subject 11","x":0.19,"y":1655},{"s":"Subject 11","x":0.22,"y":1655},{"s":"Subject 11","x":0.26,"y":1655},{"s":"Subject 11","x":0.28,"y":1577},{"s":"Subject 11","x":0.31,"y":1410},{"s":"Subject 11","x":0.352,"y":1154},{"s":"Subject 11","x":0.39,"y":820},{"s":"Subject 11","x":0.43,"y":513},{"s":"Subject 11","x":0.47,"y":282},{"s":"Subject 11","x":0.526,"y":154},{"s":"Subject 11","x":0.59,"y":77},{"s":"Subject 11","x":0.727,"y":26},{"s":"Subject 11","x":0.8,"y":0},{"s":"Subject 11","x":1,"y":0},
{"s":"Subject 12","x":-1,"y":0},{"s":"Subject 12","x":-0.4,"y":0},{"s":"Subject 12","x":-0.35,"y":100},{"s":"Subject 12","x":-0.3,"y":250},{"s":"Subject 12","x":-0.25,"y":500},{"s":"Subject 12","x":-0.2,"y":850},{"s":"Subject 12","x":-0.15,"y":1200},{"s":"Subject 12","x":-0.1,"y":1550},{"s":"Subject 12","x":-0.05,"y":1850},{"s":"Subject 12","x":0,"y":2040},{"s":"Subject 12","x":0.04,"y":2120},{"s":"Subject 12","x":0.06,"y":2050},{"s":"Subject 12","x":0.1,"y":1880},{"s":"Subject 12","x":0.15,"y":1550},{"s":"Subject 12","x":0.2,"y":1250},{"s":"Subject 12","x":0.25,"y":950},{"s":"Subject 12","x":0.3,"y":700},{"s":"Subject 12","x":0.35,"y":480},{"s":"Subject 12","x":0.4,"y":320},{"s":"Subject 12","x":0.45,"y":190},{"s":"Subject 12","x":0.5,"y":100},{"s":"Subject 12","x":0.55,"y":50},{"s":"Subject 12","x":0.62,"y":0},{"s":"Subject 12","x":1,"y":0}
]},
"spacing":35,
"resolve":{"scale":{"color":"independent"},"legend":{"color":"independent"}},
"vconcat":[
{"title":{"text":"Histogram of Correlation Values","subtitle":"(Without Global Signal Regression)"},
"width":558,"height":389,
"layer":[
{"data":{"name":"top"},"mark":{"type":"line","strokeWidth":2.5},
"encoding":{
"x":{"field":"x","type":"quantitative","scale":{"domain":[-1,1],"nice":false,"zero":false},"axis":{"orient":"bottom","values":[-1,-0.75,-0.5,-0.25,0,0.25,0.5,0.75,1],"labelExpr":"datum.value % 0.5 == 0 ? '' + datum.value : ''","labelFlush":false,"grid":false,"tickSize":-8,"tickColor":"black","tickWidth":1.5,"domainColor":"black","domainWidth":2,"labelFontSize":18,"labelColor":"black","labelPadding":12,"title":"Correlation with PCC","titleFontSize":21,"titleFontWeight":"bold","titleColor":"black","titlePadding":2}},
"y":{"field":"y","type":"quantitative","scale":{"domain":[0,3000],"nice":false},"axis":{"orient":"left","values":[0,250,500,750,1000,1250,1500,1750,2000,2250,2500,2750,3000],"format":"d","labelExpr":"datum.value % 500 == 0 ? datum.label : ''","grid":false,"tickSize":-8,"tickColor":"black","tickWidth":1.5,"domainColor":"black","domainWidth":2,"labelFontSize":18,"labelColor":"black","labelPadding":12,"labelFlush":false,"title":"Number of Voxels","titleFontSize":21,"titleFontWeight":"bold","titleColor":"black","titlePadding":8}},
"color":{"field":"s","type":"nominal","scale":{"domain":["Subject 1","Subject 2","Subject 3","Subject 4","Subject 5","Subject 6","Subject 7","Subject 8","Subject 9","Subject 10","Subject 11","Subject 12"],"range":["#000000","#ff0000","#00ff00","#0000ff","#ffff00","#bc8f8f","#dcdcdc","#9400d3","#00ffff","#ff00ff","#ffa500","#7221bc"]},
"legend":{"orient":"none","legendX":14,"legendY":11,"title":null,"symbolType":"stroke","symbolSize":400,"symbolStrokeWidth":3,"labelFont":"Liberation Serif","labelFontSize":15,"labelColor":"black","strokeColor":"black","fillColor":"white","padding":5,"rowPadding":0,"labelOffset":14}}}},
{"data":{"values":[{}]},"mark":{"type":"rule","color":"#b5b5b5","strokeDash":[6,4],"strokeWidth":1.5},
"encoding":{
"x":{"datum":0,"type":"quantitative","axis":{"orient":"top","values":[-1,-0.75,-0.5,-0.25,0,0.25,0.5,0.75,1],"labels":false,"title":null,"grid":false,"tickSize":-8,"tickColor":"black","tickWidth":1.5,"domainColor":"black","domainWidth":2}},
"y":{"datum":0,"type":"quantitative","axis":{"orient":"right","values":[0,250,500,750,1000,1250,1500,1750,2000,2250,2500,2750,3000],"labels":false,"title":null,"grid":false,"tickSize":-8,"tickColor":"black","tickWidth":1.5,"domainColor":"black","domainWidth":2}},
"y2":{"datum":3000}}}
],
"resolve":{"axis":{"x":"independent","y":"independent"}}},
{"title":{"text":"Histogram of Correlation Values","subtitle":"(With Global Signal Regression)"},
"width":558,"height":387,
"layer":[
{"data":{"name":"bot"},"mark":{"type":"line","strokeWidth":2.5},
"encoding":{
"x":{"field":"x","type":"quantitative","scale":{"domain":[-1,1],"nice":false,"zero":false},"axis":{"orient":"bottom","values":[-1,-0.75,-0.5,-0.25,0,0.25,0.5,0.75,1],"labelExpr":"datum.value % 0.5 == 0 ? '' + datum.value : ''","labelFlush":false,"grid":false,"tickSize":-8,"tickColor":"black","tickWidth":1.5,"domainColor":"black","domainWidth":2,"labelFontSize":18,"labelColor":"black","labelPadding":12,"title":"Correlation with PCC","titleFontSize":21,"titleFontWeight":"bold","titleColor":"black","titlePadding":2}},
"y":{"field":"y","type":"quantitative","scale":{"domain":[0,3000],"nice":false},"axis":{"orient":"left","values":[0,250,500,750,1000,1250,1500,1750,2000,2250,2500,2750,3000],"format":"d","labelExpr":"datum.value % 500 == 0 ? datum.label : ''","grid":false,"tickSize":-8,"tickColor":"black","tickWidth":1.5,"domainColor":"black","domainWidth":2,"labelFontSize":18,"labelColor":"black","labelPadding":12,"labelFlush":false,"title":"Number of Voxels","titleFontSize":21,"titleFontWeight":"bold","titleColor":"black","titlePadding":8}},
"color":{"field":"s","type":"nominal","scale":{"domain":["Subject 1","Subject 2","Subject 3","Subject 4","Subject 5","Subject 6","Subject 7","Subject 8","Subject 9","Subject 10","Subject 11","Subject 12"],"range":["#000000","#ff0000","#00ff00","#0000ff","#ffff00","#bc8f8f","#dcdcdc","#9400d3","#00ffff","#ff00ff","#ffa500","#7221bc"]},"legend":null}}},
{"data":{"values":[{}]},"mark":{"type":"rule","color":"#b5b5b5","strokeDash":[6,4],"strokeWidth":1.5},
"encoding":{
"x":{"datum":0,"type":"quantitative","axis":{"orient":"top","values":[-1,-0.75,-0.5,-0.25,0,0.25,0.5,0.75,1],"labels":false,"title":null,"grid":false,"tickSize":-8,"tickColor":"black","tickWidth":1.5,"domainColor":"black","domainWidth":2}},
"y":{"datum":0,"type":"quantitative","axis":{"orient":"right","values":[0,250,500,750,1000,1250,1500,1750,2000,2250,2500,2750,3000],"labels":false,"title":null,"grid":false,"tickSize":-8,"tickColor":"black","tickWidth":1.5,"domainColor":"black","domainWidth":2}},
"y2":{"datum":3000}}}
],
"resolve":{"axis":{"x":"independent","y":"independent"}}}
]}
